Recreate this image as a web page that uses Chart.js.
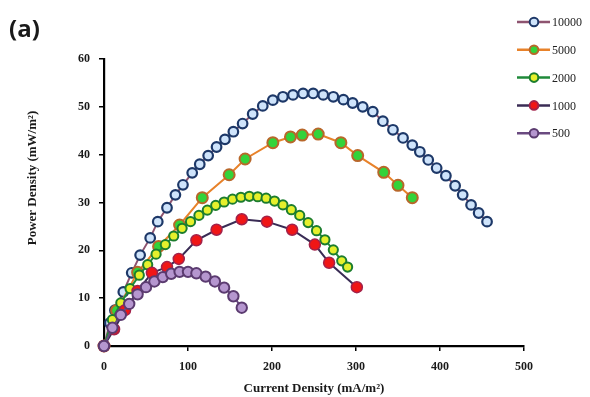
<!DOCTYPE html>
<html>
<head>
<meta charset="utf-8">
<script src="https://cdn.jsdelivr.net/npm/chart.js@4.4.1/dist/chart.umd.min.js"></script>
<style>
  html, body { margin: 0; padding: 0; background: #fff; }
  #wrap { position: relative; width: 590px; height: 397px; }
</style>
</head>
<body>
<div id="wrap"><canvas id="chart" width="590" height="397"></canvas></div>
<script>
// series labels (legend)
const seriesNames = ['10000', '5000', '2000', '1000', '500'];

// axis ticks
const xTicks = [0, 100, 200, 300, 400, 500];
const yTicks = [0, 10, 20, 30, 40, 50, 60];

// current density (mA/m2) and power density (mW/m2)
const cur10000 = [0, 7, 13, 23, 33, 43, 55, 64, 75, 85, 94, 105, 114, 124, 134, 144, 154, 165, 177, 189,
                  201, 213, 225, 237, 249, 261, 273, 285, 296, 308, 320, 332, 344, 356, 367, 376, 386, 396, 407, 418,
                  427, 437, 446, 456];
const pow10000 = [0, 4.8, 7.5, 11.3, 15.3, 19, 22.6, 26, 28.9, 31.6, 33.7, 36.2, 38, 39.8, 41.6, 43.2, 44.8, 46.5, 48.5, 50.2,
                  51.4, 52.1, 52.5, 52.8, 52.8, 52.5, 52.1, 51.5, 50.8, 50, 49, 47, 45.2, 43.5, 42, 40.6, 38.9, 37.2, 35.6, 33.5,
                  31.6, 29.5, 27.8, 26];

const cur5000 = [0, 15, 40, 65, 90, 117, 149, 168, 201, 222, 236, 255, 282, 302, 333, 350, 367];
const pow5000 = [0, 7.4, 15.4, 20.8, 25.3, 31, 35.8, 39.1, 42.5, 43.7, 44.1, 44.3, 42.5, 39.8, 36.3, 33.6, 31];

const cur2000 = [0, 10, 20, 31, 42, 52, 62, 73, 83, 93, 103, 113, 123, 133, 143, 153, 163, 173, 183, 193,
                 203, 213, 223, 233, 243, 253, 263, 273, 283, 290];
const pow2000 = [0, 5.5, 9, 12, 14.8, 17, 19.2, 21.2, 23, 24.6, 26, 27.3, 28.4, 29.4, 30.1, 30.7, 31.1, 31.3, 31.2, 30.9,
                 30.3, 29.5, 28.5, 27.3, 25.8, 24.1, 22.2, 20.1, 17.8, 16.5];

const cur1000 = [0, 12, 25, 40, 57, 75, 89, 110, 134, 164, 194, 224, 251, 268, 301];
const pow1000 = [0, 3.5, 7.5, 11.5, 15.3, 16.5, 18.2, 22.1, 24.3, 26.5, 26, 24.3, 21.2, 17.4, 12.3];

const cur500 = [0, 10, 20, 30, 40, 50, 60, 70, 80, 90, 100, 110, 121, 132, 143, 154, 164];
const pow500 = [0, 3.8, 6.5, 8.8, 10.8, 12.3, 13.5, 14.4, 15.1, 15.5, 15.5, 15.2, 14.5, 13.5, 12.2, 10.4, 8];

function toPoints(xs, ys) {
    return xs.map((x, i) => ({ x: x, y: ys[i] }));
}

const serifBold = { family: '"Liberation Serif", "DejaVu Serif", serif', size: 12, weight: 'bold' };

const datasets = [
    {
        label: seriesNames[0],
        data: toPoints(cur10000, pow10000),
        borderColor: '#8e5470',
        borderWidth: 2,
        pointRadius: 4.8,
        pointBorderWidth: 2.2,
        pointBackgroundColor: '#cfe4fb',
        pointBorderColor: '#1d3868',
        order: 5
    },
    {
        label: seriesNames[1],
        data: toPoints(cur5000, pow5000),
        borderColor: '#e8822a',
        borderWidth: 2,
        pointRadius: 5.5,
        pointBorderWidth: 2,
        pointBackgroundColor: '#33d33a',
        pointBorderColor: '#b8672a',
        order: 4
    },
    {
        label: seriesNames[2],
        data: toPoints(cur2000, pow2000),
        borderColor: '#1f8a3a',
        borderWidth: 2,
        pointRadius: 4.6,
        pointBorderWidth: 2,
        pointBackgroundColor: '#e6f02c',
        pointBorderColor: '#1c7d2e',
        order: 3
    },
    {
        label: seriesNames[3],
        data: toPoints(cur1000, pow1000),
        borderColor: '#3a2c55',
        borderWidth: 2,
        pointRadius: 5.5,
        pointBorderWidth: 1.5,
        pointBackgroundColor: '#f01616',
        pointBorderColor: '#a3224a',
        order: 2
    },
    {
        label: seriesNames[4],
        data: toPoints(cur500, pow500),
        borderColor: '#6a4a80',
        borderWidth: 2,
        pointRadius: 5.2,
        pointBorderWidth: 2,
        pointBackgroundColor: '#b596cf',
        pointBorderColor: '#5b3b70',
        order: 1
    }
];

datasets.forEach(ds => { ds.clip = false; ds.tension = 0; });

// panel label, rotated y title and the side legend
const extras = {
    id: 'extras',
    afterDraw(chart) {
        const ctx = chart.ctx;
        ctx.save();

        ctx.fillStyle = '#1a1a1a';
        ctx.font = 'bold 24px "Open Sans", sans-serif';
        ctx.textBaseline = 'middle';
        ctx.textAlign = 'left';
        ctx.fillText('(a)', 9, 30);

        ctx.save();
        ctx.translate(33, 178);
        ctx.rotate(-Math.PI / 2);
        ctx.textAlign = 'center';
        ctx.font = 'bold 13px "Liberation Serif", serif';
        ctx.fillText('Power Density (mW/m\u00B2)', 0, 0);
        ctx.restore();

        chart.data.datasets.forEach((ds, i) => {
            const y = 22 + i * 27.8;
            ctx.strokeStyle = ds.borderColor;
            ctx.lineWidth = 2.5;
            ctx.beginPath();
            ctx.moveTo(517, y);
            ctx.lineTo(550, y);
            ctx.stroke();

            ctx.beginPath();
            ctx.arc(534, y, 4.3, 0, Math.PI * 2);
            ctx.fillStyle = ds.pointBackgroundColor;
            ctx.fill();
            ctx.lineWidth = 2;
            ctx.strokeStyle = ds.pointBorderColor;
            ctx.stroke();

            ctx.fillStyle = '#222';
            ctx.font = '12px "Liberation Serif", serif';
            ctx.textAlign = 'left';
            ctx.fillText(ds.label, 552, y + 1);
        });

        ctx.restore();
    }
};

new Chart(document.getElementById('chart').getContext('2d'), {
    type: 'line',
    data: { datasets: datasets },
    plugins: [extras],
    options: {
        responsive: false,
        animation: false,
        devicePixelRatio: 1,
        layout: { padding: { top: 59, right: 66, left: 0, bottom: 0 } },
        plugins: {
            legend: { display: false },
            tooltip: { enabled: false }
        },
        scales: {
            x: {
                type: 'linear',
                min: 0,
                max: 500,
                afterFit: scale => { scale.height = 51; },
                afterBuildTicks: scale => { scale.ticks = xTicks.map(v => ({ value: v })); },
                ticks: { color: '#1a1a1a', font: serifBold, padding: 9, maxRotation: 0 },
                grid: { drawOnChartArea: false, drawTicks: true, tickLength: 5, color: '#000', lineWidth: 1.5 },
                border: { color: '#000', width: 2.2 },
                title: {
                    display: true,
                    text: 'Current Density (mA/m\u00B2)',
                    color: '#1a1a1a',
                    font: { family: '"Liberation Serif", serif', size: 13, weight: 'bold' },
                    padding: { top: 0, bottom: 1 }
                }
            },
            y: {
                min: 0,
                max: 60,
                afterFit: scale => { scale.width = 104; },
                afterBuildTicks: scale => { scale.ticks = yTicks.map(v => ({ value: v })); },
                ticks: { color: '#1a1a1a', font: serifBold, padding: 9 },
                grid: { drawOnChartArea: false, drawTicks: true, tickLength: 5, color: '#000', lineWidth: 1.5 },
                border: { color: '#000', width: 2.2 }
            }
        }
    }
});
</script>
</body>
</html>
